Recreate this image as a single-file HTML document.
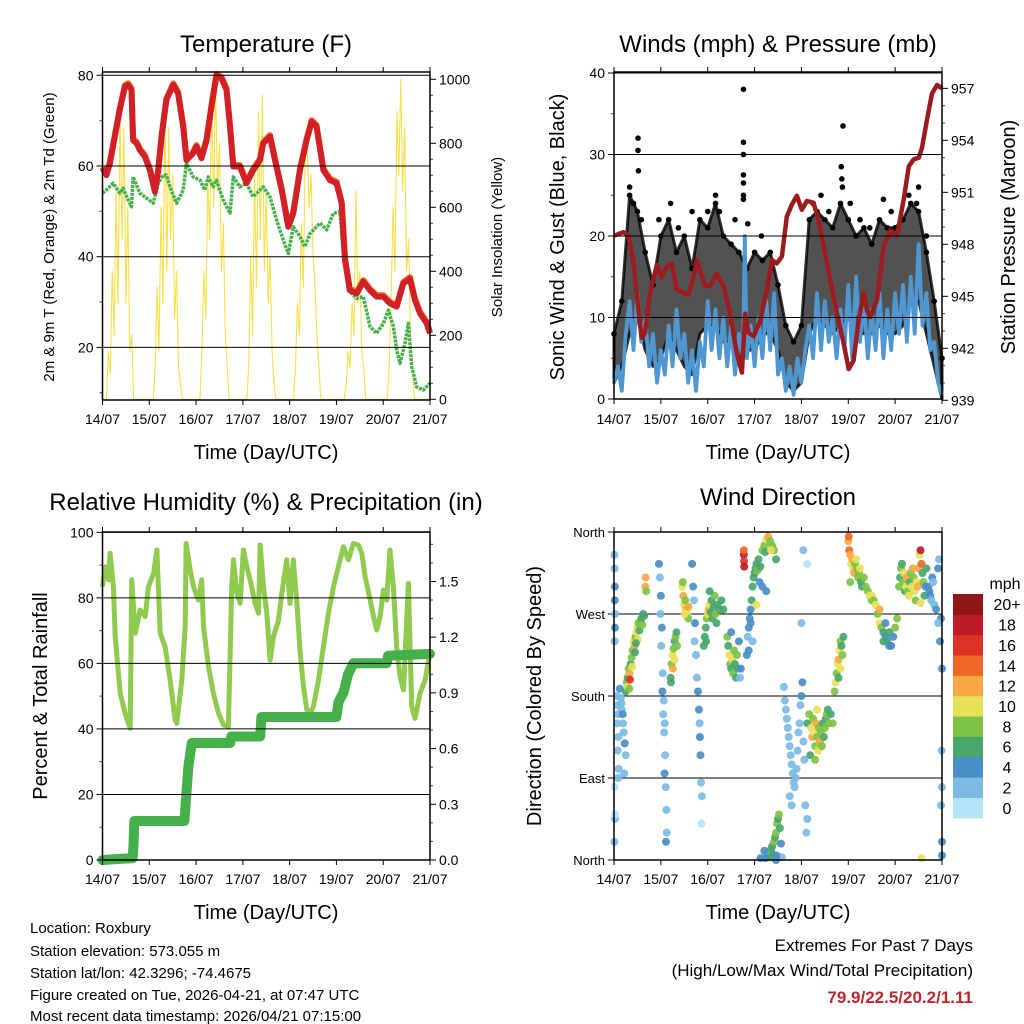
<!DOCTYPE html>
<html><head><meta charset="utf-8"><title>Station Meteogram</title>
<style>
html,body{margin:0;padding:0;background:#fff;}
svg{display:block;font-family:"Liberation Sans",sans-serif;}
</style></head>
<body>
<svg id="root" width="1024" height="1024" viewBox="0 0 1024 1024" xmlns="http://www.w3.org/2000/svg">
<rect x="0" y="0" width="1024" height="1024" fill="#fff"/>
<g id="g1"></g>
<g id="g2"></g>
<g id="g3"></g>
<g id="g4"></g>
<g id="txt">
<text x="266" y="52" font-size="24" text-anchor="middle">Temperature (F)</text>
<text x="778" y="52" font-size="24" text-anchor="middle">Winds (mph) &amp; Pressure (mb)</text>
<text x="266" y="510" font-size="24" text-anchor="middle">Relative Humidity (%) &amp; Precipitation (in)</text>
<text x="778" y="505" font-size="24" text-anchor="middle">Wind Direction</text>
<text x="266" y="459" font-size="20" text-anchor="middle">Time (Day/UTC)</text>
<text x="778" y="459" font-size="20" text-anchor="middle">Time (Day/UTC)</text>
<text x="266" y="919" font-size="20" text-anchor="middle">Time (Day/UTC)</text>
<text x="778" y="919" font-size="20" text-anchor="middle">Time (Day/UTC)</text>
<text transform="translate(54,237) rotate(-90)" font-size="15" text-anchor="middle">2m &amp; 9m T (Red, Orange) &amp; 2m Td (Green)</text>
<text transform="translate(502,237) rotate(-90)" font-size="15" text-anchor="middle">Solar Insolation (Yellow)</text>
<text transform="translate(564,237) rotate(-90)" font-size="20" text-anchor="middle">Sonic Wind &amp; Gust (Blue, Black)</text>
<text transform="translate(1015,237) rotate(-90)" font-size="20" text-anchor="middle">Station Pressure (Maroon)</text>
<text transform="translate(47,696) rotate(-90)" font-size="20" text-anchor="middle">Percent &amp; Total Rainfall</text>
<text transform="translate(541,696) rotate(-90)" font-size="20" text-anchor="middle">Direction (Colored By Speed)</text>
<g font-size="15">
<text x="30" y="933">Location: Roxbury</text>
<text x="30" y="956">Station elevation: 573.055 m</text>
<text x="30" y="978">Station lat/lon: 42.3296; -74.4675</text>
<text x="30" y="1000">Figure created on Tue, 2026-04-21, at 07:47 UTC</text>
<text x="30" y="1021">Most recent data timestamp: 2026/04/21 07:15:00</text>
</g>
<text x="973" y="951" font-size="17" text-anchor="end">Extremes For Past 7 Days</text>
<text x="973" y="976" font-size="17" text-anchor="end">(High/Low/Max Wind/Total Precipitation)</text>
<text x="973" y="1003" font-size="17" font-weight="bold" fill="#c0272d" text-anchor="end">79.9/22.5/20.2/1.11</text>
</g>
</svg>
<script>
// ---------------- DATA ----------------
const dayLabels = ["14/07","15/07","16/07","17/07","18/07","19/07","20/07","21/07"];
const tempHours = [0,2,3.8,6.3,8.9,11.5,13.2,14.9,15.7,17.5,19.2,21.7,24.3,26.9,28.6,30.3,32.8,36.3,38.8,41.4,43.1,46.5,48.2,50.8,53.4,55.9,58.5,61.1,63.6,65.4,67.1,70.5,73.9,77.3,80.8,82.5,85.9,88.5,91.9,95.3,97.9,101.3,104.7,107.3,109.8,113.3,116.7,120.1,122.7,124.4,126.9,130.4,133.8,137.2,140.6,144.1,147.5,150.9,154.3,157.7,160.3,162.9,166.3,168];
const tempVals = [59.5,58.0,60.6,66.5,72.4,77.5,77.9,76.8,65.7,65.0,63.5,62.1,59.1,54.3,59.1,66.5,74.6,77.9,76.0,68.7,61.3,62.8,64.3,61.7,65.7,73.1,80,79.3,76.8,68.7,59.9,59.9,56.2,59.1,61.3,65.0,66.5,61.3,54.7,46.6,49.6,59.1,65.7,69.8,68.7,59.1,56.9,56.2,51.8,39.3,32.6,31.9,34.5,32.6,31.2,31.2,29.7,29.0,34.1,35.2,30.4,27.5,25.3,23.1];
const dewHours = [0,2,5.5,8.9,10.6,13.2,14.9,15.7,19.2,22.6,26,28.6,31.1,32.8,34.6,38,41.4,43.1,46.5,50,52.5,54.2,56.8,58.5,61.9,65.4,67.1,70.5,73.9,77.3,80.8,82.5,85.9,89.3,92.7,95.3,97.9,101.3,103.9,106.4,111.6,115,118.4,121.8,123.5,126.1,130.4,133.8,137.2,140.6,144.1,146.6,149.2,150.9,152.6,155.2,156.9,158.6,161.2,164.6,168];
const dewVals = [54.0,54.7,56.2,54.0,55.1,52.5,51.0,57.6,54.0,52.9,51.8,56.2,58.0,58.0,55.4,51.8,54.7,60.6,57.6,56.9,54.7,57.6,55.4,56.9,52.5,49.6,57.6,55.4,56.2,53.2,54.7,55.4,53.2,48.1,43.7,40.7,46.6,44.4,42.2,45.1,47.4,45.9,49.6,49.9,40.7,32.6,30.8,31.2,24.6,23.1,25.3,28.2,24.6,19.4,16.5,20.9,25.3,15.7,11.3,10.6,12.1];
const solarHours = [0,2,3,4,5,6,7,8,9,10,11,12,13,14,15,16,26,27,28,29,30,31,32,33,34,35,36,37,38,39,40,41,50,51,52,53,54,55,56,57,58,59,60,61,62,63,64,65,74,75,76,77,78,79,80,81,82,83,84,85,86,87,88,89,98,99,100,101,102,103,104,105,106,107,108,109,110,111,112,124,125,126,127,128,129,130,131,132,133,134,135,146,147,148,149,150,151,152,153,154,155,156,157,158,159,160,168];
const solarVals = [0,0,150,80,400,200,650,300,900,500,850,300,600,150,200,0,0,100,350,150,600,300,900,400,850,500,700,250,400,100,50,0,0,150,400,250,700,500,950,600,1000,650,800,400,550,200,100,0,0,100,450,200,700,350,900,500,950,400,650,300,450,150,50,0,0,100,300,200,550,350,750,800,600,700,450,350,200,100,0,0,50,150,100,300,200,650,300,400,150,100,0,0,100,300,600,400,900,700,1000,650,850,400,500,200,100,0,0];

const presHours = [0,4.8,7.4,9.9,12.5,14.2,15.9,18.5,21.9,24.4,27,29.6,32.1,35.6,38.1,40.7,42.4,44.1,46.7,49.2,52.6,56.1,59.5,62.9,65.5,67.2,68.9,71.5,74.9,78.3,80.9,83.4,86,88.5,91.1,93.7,96.2,98.8,102.2,104.8,107.4,110.8,114.2,117.6,120.2,122.7,125.3,127.9,129.6,131.3,134.7,138.1,141.5,145,148.4,151,153.5,156.1,157.8,160.3,162.9,165.5,168];
const presVals = [948.5,948.7,948.5,947.1,944.2,942.6,942.9,945.2,946.8,946.1,946.7,946.9,945.4,945.2,945.1,946.1,947.1,946.5,945.6,945.6,946.3,945.6,944.0,941.7,940.6,944.0,942.9,942.7,943.6,945.4,947.1,946.9,947.3,949.6,950.3,950.8,950.0,950.5,950.4,949.4,947.9,945.9,944.0,942.3,940.8,941.3,943.6,945.2,944.2,943.8,944.8,947.9,948.8,948.5,950.6,952.5,952.9,953.0,953.6,955.2,956.7,957.2,957.0];
const windHours = [0,2,4,6,8,10,12,14,16,18,20,22,24,26,28,30,32,34,36,38,40,42,44,46,48,50,52,54,56,58,60,62,64,66,67,68,70,72,74,76,78,80,82,84,86,88,90,92,94,96,98,100,102,104,106,108,110,112,114,116,118,120,122,124,126,128,130,132,134,136,138,140,142,144,146,148,150,152,154,156,158,160,162,164,166,168];
const windVals = [2,4,1,8,12,6,13,7,10,4,8,2,6,3,9,4,11,5,8,2,6,1,7,4,12,6,11,5,10,4,9,3,8,5,20,5,9,4,10,5,12,6,13,3,5,1,4,0.5,5,2,6,9,5,13,6,12,7,10,5,11,6,14,5,15,7,12,5,11,6,13,5,11,6,13,8,14,7,15,8,19,9,13,6,7,2,0.5];
const gustHours = [0,4,8,12,16,20,24,28,32,36,40,44,48,52,56,60,64,68,72,76,80,84,88,92,96,100,104,108,112,116,120,124,128,132,136,140,144,148,152,156,160,164,168];
const gustHi = [8,12,25,23,18,14,20,22,18,20,16,22,21,24,20,19,18,16,18,17,18,14,9,7,9,22,23,22,21,24,22,20,21,19,22,21,21,22,24,23,18,12,5];
const gustLo = [2,4,8,10,6,4,5,8,6,4,3,8,9,9,7,7,5,6,6,8,8,6,2,1,2,8,10,9,8,9,10,8,8,8,9,8,8,9,12,12,8,4,0];
const gustPtHours = [12.3,12.3,12.5,66.3,66.3,66.3,66.3,66.3,66.3,66.3,117.3,116.4,116.7,117,68.5,75.5,138,156,155,29,23,40,48,62,8,10,14,33,52,54,102,106,110,121,126,131,142,147,151,160];
const gustPtVals = [32,30.5,28,38,31.5,30,27.5,26.5,25,24.5,33.5,28.5,27,26,21.5,20,24.5,26,24,24,22,23,23,22,26,24,22,21,25,23,24,25,23,24,22,21,23,22,25,20];

const rhHours = [0,1.4,3.1,3.9,5.6,6.5,9.1,11.6,14.2,15,16.8,19.3,21.9,23.6,26.2,27.9,29.6,32.1,34.7,37.3,38.1,40.7,42.4,42.9,45,46.7,49.2,50.9,51.8,54.4,56.9,59.5,62.1,64.6,66.3,67.2,68.9,70.6,72.3,74,75.7,78.3,80,80.9,82.6,84.3,86,87.7,90.3,92,94.5,96.2,97.9,99.7,101.4,103.1,104.8,106.5,108.2,110.8,113.3,115.9,118.5,121,123.6,126.2,128.7,131.3,133,134.7,137.3,139,140.7,142.4,144.1,145.8,147.5,149.2,150.9,152.6,154.4,156.9,158.6,160.3,162.9,165.5,168];
const rhVals = [83.4,89.5,85.5,93.6,83.4,68.2,50.9,44.8,40.2,85.5,69.2,76.3,74.3,83.4,87.5,94.6,69.2,65.1,54.9,42.7,41.7,54.9,71.2,96.6,88.5,83.4,79.3,85.5,71.2,59,50.9,44.8,41.2,40.7,83.4,91.6,81.4,78.3,94.6,89.5,85.5,78.3,75.3,96.1,83.4,75.3,61,68.2,73.2,81.4,91.6,78.3,91.6,78.3,63.1,52.9,45.8,44.8,46.8,54.9,65.1,75.3,83.4,89.5,95.6,91.6,96.6,96.1,93.6,86.5,79.3,74.3,70.2,74.3,82.4,79.3,94.6,83.4,65.1,56,51.9,84.4,46.8,43.2,50.9,54.9,63.1];
const precipHours = [0,15.5,15.9,16.3,42,43,44,45.8,65.5,66,80.9,81.5,120,121,123.6,126,128.7,145.8,146.5,168];
const precipVals = [0,0.01,0.08,0.21,0.21,0.35,0.5,0.63,0.63,0.665,0.665,0.77,0.77,0.85,0.9,1.0,1.06,1.06,1.1,1.11];

const dirHours = [0.2,0.3,0.5,0.4,0.6,0.5,0.3,1.5,1.8,2,1.6,2.2,1.9,2.4,2.1,0.3,0.5,0.2,0.6,3,3.5,4,4.6,5,5.5,6,5.2,4.5,3.8,
6,6.5,7,7.5,7,8,8.5,8.2,9,9.5,10,10.5,11,11.5,12,12.5,13,13.5,14,14.5,15,15.5,16,16.2,16.5,9.3,10.8,12.2,7.8,11.2,
23,23.5,24,23.8,24.5,24.2,25,24.8,25.5,25.2,26,25.7,26.2,25.9,26.5,26.8,27,26.6,
29,29.5,30,30.5,31,31.5,30.2,32,29.2,31,32.3,
35,35.5,36,36.5,37,37.5,38,36.2,35.2,38.2,
40,40.5,41,41.5,41.2,42,42.5,43,43.5,43.8,44,44.3,44.6,45,44.8,
46,46.5,47,47.5,48,48.5,49,49.5,50,50.5,51,52,53,54,55,52.5,51.5,47.2,49,56,
58,58.5,59,59.5,60,60.5,61,61.5,62,62.5,63,63.5,64,64.5,65,60,
66.5,66.6,66.7,66.5,
68,68.5,69,69.5,70,70.5,71,71.5,72,72.5,73,73.5,74,75,76,77,78,79,80,81,82,83,74.5,73,70,76,78,71,69,77.5,80.5,
79,79.5,80,80.5,81,81.5,82,82.5,83,83.5,84,84.5,85,85.5,77,77.5,86,75,
87,87.5,88,88.5,89,89.5,90,90.5,91,91.5,92,92.5,93,93.5,94,94.5,95,95.5,96,96.5,97,97.5,98,99,98.5,90,91,96,97,99,
99,100,101,101.5,102,102.5,103,103.5,104,104.5,105,105.5,106,106.5,107,107.5,108,108.5,109,109.5,110,100.5,103,111,112,104,
113,113.5,114,114.5,115,115.5,116,116.5,117,117.5,115,116,
120,120.5,121,121.5,122,122.5,123,123.5,124,124.5,125,125.5,126,126.5,127,128,129,130,131,132,120.2,121,
132,133,134,135,136,137,138,139,140,141,142,143,144,145,136,138,139,141,
146,146.5,147,147.5,148,148.5,149,149.5,150,150.5,151,151.5,152,152.5,153,153.5,154,154.5,155,155.5,156,156.5,157,157.5,158,158.5,159,159.5,160,157,
161,161.5,162,162.5,163,163.5,164,165,166,166.5,167,167.5,168,167.8,168,167.5,168,168,166,83,83.2,157.5];
const dirDegs = [335,320,300,285,270,255,240,180,170,160,150,135,120,100,90,80,45,20,50,188,178,165,150,140,128,115,95,160,172,
185,195,200,210,190,205,215,198,222,230,240,235,245,250,255,260,252,262,265,258,270,268,300,310,295,212,228,242,188,238,
325,310,290,270,255,235,205,185,175,160,150,140,115,95,80,55,30,20,
200,215,225,232,240,245,210,250,195,220,235,
300,290,280,285,275,270,265,270,305,278,
325,300,285,260,240,225,200,185,165,150,135,115,85,70,40,
235,245,255,265,270,275,280,272,285,265,278,270,280,275,285,260,290,240,295,275,
245,235,225,215,210,220,205,230,215,200,225,210,240,200,210,250,
335,328,322,340,
225,245,255,265,275,285,300,310,315,320,325,318,330,322,340,345,352,355,350,345,340,330,305,280,260,300,295,240,230,338,340,
8,5,3,12,15,6,20,25,30,40,45,50,35,18,10,2,3,2,
190,175,165,155,145,135,125,115,105,95,85,80,90,100,120,140,150,170,180,195,130,110,60,45,30,70,60,260,340,325,
150,160,145,135,155,140,125,150,135,120,145,130,140,125,150,135,145,155,160,165,150,115,110,160,150,165,
185,195,205,215,220,230,240,235,225,245,200,210,
350,340,335,325,330,320,315,325,330,320,310,315,320,305,300,310,300,295,290,285,355,305,
290,285,280,270,260,255,250,245,240,250,235,245,255,265,275,240,260,235,
300,310,320,325,305,315,295,300,310,295,290,305,315,300,320,310,295,285,305,300,320,335,340,325,315,305,290,300,320,282,
300,295,290,285,310,305,280,275,320,330,240,265,210,120,80,60,20,5,260,0,5,2];
const dirSpeeds = [3,2,4,4,3,4,2,2,3,2,2,3,2,3,2,1,2,3,1,4,3,2,3,2,4,3,2,4,2,
6,8,6,8,10,12,7,16,9,8,10,12,8,10,10,8,7,9,6,8,7,6,12,13,8,10,7,11,8,6,
4,3,5,3,4,2,3,4,2,3,2,3,2,4,3,2,3,4,
6,8,10,8,6,9,12,7,6,10,8,
10,12,10,9,12,11,8,10,8,12,
4,5,3,4,3,3,2,4,4,3,4,4,2,2,1,
6,6,7,8,10,12,10,7,6,7,6,8,6,7,6,6,8,7,7,6,
8,6,10,8,7,10,8,9,6,7,8,6,4,3,4,5,
19,17,18,14,
4,3,4,5,4,6,6,6,7,6,6,8,6,7,8,8,10,12,8,8,8,6,4,10,4,4,4,2,4,6,10,
10,8,6,7,6,6,8,6,8,8,6,8,6,4,4,4,2,4,
2,2,3,2,2,2,2,3,2,2,2,3,2,2,2,3,2,2,4,4,2,2,2,2,2,2,2,2,2,1,
6,8,10,12,8,10,8,12,8,10,8,12,8,8,6,6,8,6,8,6,8,6,8,6,8,10,
8,10,8,10,12,10,8,6,8,6,6,10,
12,14,12,10,12,10,12,8,10,8,8,8,10,6,6,8,8,8,10,8,15,8,
10,8,10,8,10,8,6,4,6,6,4,4,8,8,12,6,4,4,
8,6,8,6,8,10,6,10,12,8,10,6,8,10,12,8,10,8,10,12,12,10,18,14,6,8,6,4,6,10,
4,4,4,2,4,2,2,4,4,2,4,4,4,2,2,2,4,4,2,4,4,10];
const speedColors = ["#b5e4f8","#7dbbe5","#4a8ec6","#49a66f","#7dc244","#e7e159","#f7a843","#f0672a","#dd3326","#bb1c25","#901619"];
const speedLabels = ["0","2","4","6","8","10","12","14","16","18","20+"];

// ---------------- HELPERS ----------------
const NS = "http://www.w3.org/2000/svg";
function mk(parent, tag, attrs){ const e=document.createElementNS(NS,tag); for(const k in attrs) e.setAttribute(k,attrs[k]); parent.appendChild(e); return e; }
function pathFrom(xs, ys, fx, fy){ let d=""; for(let i=0;i<xs.length;i++){ d+=(i?"L":"M")+fx(xs[i]).toFixed(1)+","+fy(ys[i]).toFixed(1);} return d; }

const g1=document.getElementById("g1"), g2=document.getElementById("g2"), g3=document.getElementById("g3"), g4=document.getElementById("g4");

const L1=102.5, R1=430, T1=72, B1=400;
const L2=614, R2=942, T2=72, B2=399;
const T3=532, B3=860;
const x1=t=>L1+t*(R1-L1)/168;
const x2=t=>L2+t*(R2-L2)/168;
const yTemp=v=>75.3+(80-v)*4.535;
const ySolar=s=>399.3-s*0.32;
const yWind=m=>399-m*8.15;
const yPres=p=>400.3-(p-939)*17.33;
const yRH=v=>860-v*3.277;
const yPrecip=i=>860-i*185.7;
const yDir=d=>860-d*328/360;

function frame(g,L,T,R,B,name){
  const r=mk(g,"rect",{x:L,y:T,width:R-L,height:B-T,fill:"none",stroke:"#000","stroke-width":1.5});
  
  
}
function xTicks(g,fx,T,B,labY,name){
  for(let i=0;i<dayLabels.length;i++){
    const x=fx(i*24);
    const a=mk(g,"line",{x1:x,x2:x,y1:T-5,y2:T,stroke:"#000","stroke-width":1});
    
    
    const b=mk(g,"line",{x1:x,x2:x,y1:B,y2:B+5,stroke:"#000","stroke-width":1});
    
    
    const t=mk(g,"text",{x:x,y:labY,"font-size":14,"text-anchor":"middle"});
    t.textContent=dayLabels[i];
    
    
  }
}
function yTicks(g,vals,fy,xEdge,side,labels,grid,gL,gR,name,fs){
  for(let i=0;i<vals.length;i++){
    const y=fy(vals[i]);
    const dx= side==="left"?-6:6;
    const tk=mk(g,"line",{x1:xEdge,x2:xEdge+dx,y1:y,y2:y,stroke:"#000","stroke-width":1});
    
    
    if(grid){
      const gl=mk(g,"line",{x1:gL,x2:gR,y1:y,y2:y,stroke:"#000","stroke-width":1});
      
      
    }
    const t=mk(g,"text",{x:side==="left"?xEdge-9:xEdge+9,y:y+5,"font-size":fs||14,"text-anchor":side==="left"?"end":"start"});
    t.textContent=labels[i];
    
    
  }
}
function minorTicks(g,vals,fy,xEdge,side,name){
  for(const v of vals){
    const y=fy(v); const dx=side==="left"?-3:3;
    const tk=mk(g,"line",{x1:xEdge,x2:xEdge+dx,y1:y,y2:y,stroke:"#444","stroke-width":1});
    
    
  }
}

// ---------------- PANEL 1 ----------------
(function(){
  const sol=mk(g1,"path",{d:pathFrom(solarHours,solarVals,x1,ySolar),fill:"none",stroke:"#f9df4b","stroke-width":1.1,"stroke-linejoin":"round"});
  
  
  const dew=mk(g1,"path",{d:pathFrom(dewHours,dewVals,x1,yTemp),fill:"none",stroke:"#46b04a","stroke-width":3.5,"stroke-dasharray":"3 1","stroke-linejoin":"round"});
  
  
  const t9=mk(g1,"path",{d:pathFrom(tempHours,tempVals,x1,v=>yTemp(v)-1.5),fill:"none",stroke:"#f37b2a","stroke-width":6,"stroke-linejoin":"round"});
  
  
  const t2=mk(g1,"path",{d:pathFrom(tempHours,tempVals,x1,yTemp),fill:"none",stroke:"#d22027","stroke-width":6,"stroke-linejoin":"round"});
  
  
  yTicks(g1,[20,40,60,80],yTemp,L1,"left",["20","40","60","80"],true,L1,R1,"temp-y",14);
  minorTicks(g1,[10,30,50,70],yTemp,L1,"left","temp-y");
  yTicks(g1,[0,200,400,600,800,1000],ySolar,R1,"right",["0","200","400","600","800","1000"],false,0,0,"solar-y",14);
  minorTicks(g1,[50,100,150,250,300,350,450,500,550,650,700,750,850,900,950],ySolar,R1,"right","solar-y");
  frame(g1,L1,T1,R1,B1,"temperature-plot-frame");
  xTicks(g1,x1,T1,B1,424,"temp");
})();

// ---------------- PANEL 2 ----------------
(function(){
  let d="";
  for(let i=0;i<gustHours.length;i++) d+=(i?"L":"M")+x2(gustHours[i]).toFixed(1)+","+yWind(gustHi[i]).toFixed(1);
  for(let i=gustHours.length-1;i>=0;i--) d+="L"+x2(gustHours[i]).toFixed(1)+","+yWind(gustLo[i]).toFixed(1);
  d+="Z";
  const band=mk(g2,"path",{d:d,fill:"#000","fill-opacity":0.68,stroke:"#000","stroke-opacity":0.8,"stroke-width":3,"stroke-linejoin":"round"});
  
  
  for(let i=0;i<gustHours.length;i++){
    const c=mk(g2,"circle",{cx:x2(gustHours[i]),cy:yWind(gustHi[i]),r:2.8,fill:"#000"});
    
    
  }
  for(let i=0;i<gustPtHours.length;i++){
    const c=mk(g2,"circle",{cx:x2(gustPtHours[i]),cy:yWind(gustPtVals[i]),r:2.8,fill:"#000"});
    
    
  }
  const w=mk(g2,"path",{d:pathFrom(windHours,windVals,x2,yWind),fill:"none",stroke:"#4f97d1","stroke-width":3.8,"stroke-linejoin":"round"});
  
  
  const p=mk(g2,"path",{d:pathFrom(presHours,presVals,x2,yPres),fill:"none",stroke:"#9b1b1f","stroke-width":4.5,"stroke-linejoin":"round"});
  
  
  yTicks(g2,[0,10,20,30,40],yWind,L2,"left",["0","10","20","30","40"],true,L2,R2,"wind-y",14);
  minorTicks(g2,[5,15,25,35],yWind,L2,"left","wind-y");
  yTicks(g2,[939,942,945,948,951,954,957],yPres,R2,"right",["939","942","945","948","951","954","957"],false,0,0,"pressure-y",14);
  minorTicks(g2,[940,941,943,944,946,947,949,950,952,953,955,956],yPres,R2,"right","pressure-y");
  frame(g2,L2,T2,R2,B2,"wind-plot-frame");
  xTicks(g2,x2,T2,B2,424,"wind");
})();

// ---------------- PANEL 3 ----------------
(function(){
  const rh=mk(g3,"path",{d:pathFrom(rhHours,rhVals,x1,yRH),fill:"none",stroke:"#90cb50","stroke-width":5,"stroke-linejoin":"round"});
  
  
  const pr=mk(g3,"path",{d:pathFrom(precipHours,precipVals,x1,yPrecip),fill:"none",stroke:"#46b04a","stroke-width":10,"stroke-linejoin":"round","stroke-linecap":"round"});
  
  
  yTicks(g3,[0,20,40,60,80,100],yRH,L1,"left",["0","20","40","60","80","100"],true,L1,R1,"rh-y",14);
  minorTicks(g3,[10,30,50,70,90],yRH,L1,"left","rh-y");
  yTicks(g3,[0,0.3,0.6,0.9,1.2,1.5],yPrecip,R1,"right",["0.0","0.3","0.6","0.9","1.2","1.5"],false,0,0,"precip-y",14);
  minorTicks(g3,[0.1,0.2,0.4,0.5,0.7,0.8,1.0,1.1,1.3,1.4,1.6,1.7],yPrecip,R1,"right","precip-y");
  frame(g3,L1,T3,R1,B3,"humidity-plot-frame");
  xTicks(g3,x1,T3,B3,884,"rh");
})();

// ---------------- PANEL 4 ----------------
(function(){
  yTicks(g4,[0,90,180,270,360],yDir,L2,"left",["North","East","South","West","North"],true,L2,R2,"dir-y",13);
  for(let i=0;i<dirHours.length;i++){
    const b=Math.min(10,Math.max(0,Math.floor(dirSpeeds[i]/2)));
    const c=mk(g4,"circle",{cx:x2(dirHours[i]),cy:yDir(dirDegs[i]),r:4,fill:speedColors[b],"fill-opacity":0.92});
    
    
  }
  frame(g4,L2,T3,R2,B3,"direction-plot-frame");
  xTicks(g4,x2,T3,B3,884,"dir");
  const cbT=594, cbB=818, cbL=953, cbW=30, n=speedColors.length, h=(cbB-cbT)/n;
  const mph=mk(g4,"text",{x:1005,y:589,"font-size":16,"text-anchor":"middle"});
  mph.textContent="mph";
  
  
  for(let i=0;i<n;i++){
    const y=cbB-(i+1)*h;
    const r=mk(g4,"rect",{x:cbL,y:y,width:cbW,height:h+0.4,fill:speedColors[i]});
    
    
    const t=mk(g4,"text",{x:1007,y:y+h/2+6,"font-size":16,"text-anchor":"middle"});
    t.textContent=speedLabels[i];
    
    
  }
})();
</script>
</body></html>
